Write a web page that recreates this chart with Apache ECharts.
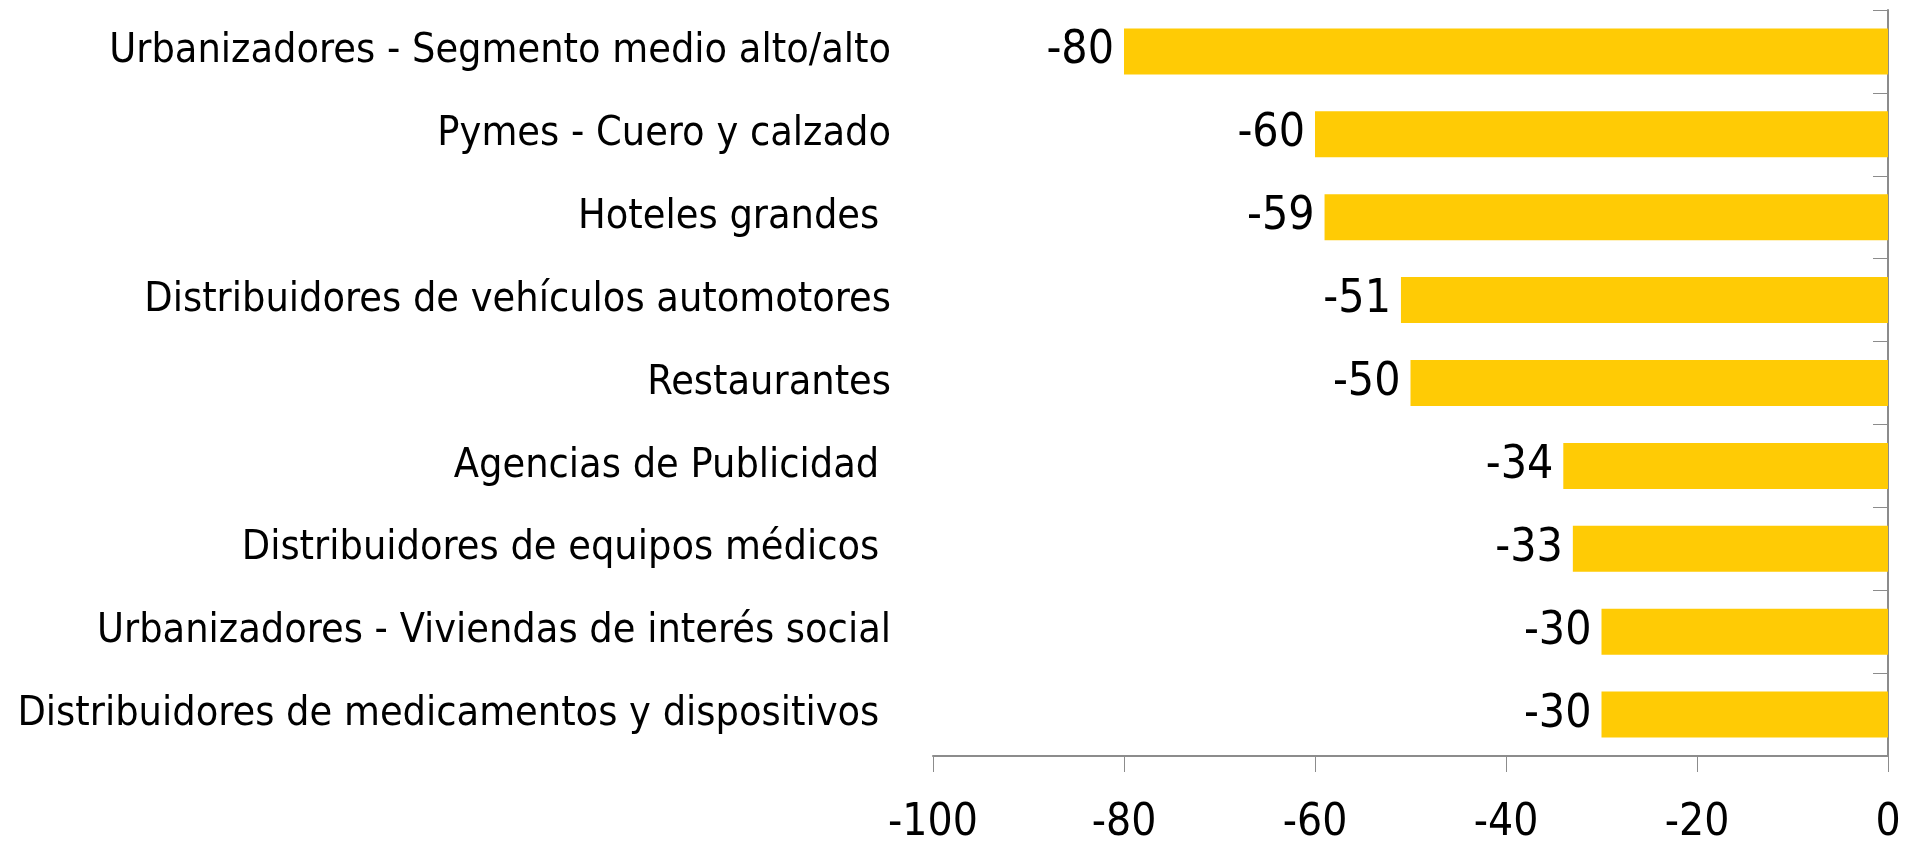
<!DOCTYPE html>
<html>
<head>
<meta charset="utf-8">
<script src="https://cdn.jsdelivr.net/npm/echarts@6/dist/echarts.min.js"></script>
<style>
  html, body { margin: 0; padding: 0; background: #fff; }
  #chart { width: 1911px; height: 846px; }
</style>
</head>
<body>
<div id="chart"></div>
<script>
// categories, top to bottom
var categories = [
  'Urbanizadores - Segmento medio alto/alto',
  'Pymes - Cuero y calzado',
  'Hoteles grandes ',
  'Distribuidores de vehículos automotores',
  'Restaurantes',
  'Agencias de Publicidad ',
  'Distribuidores de equipos médicos ',
  'Urbanizadores - Viviendas de interés social',
  'Distribuidores de medicamentos y dispositivos '
]
var values = [-80, -60, -59, -51, -50, -34, -33, -30, -30]
var xTicks = [-100, -80, -60, -40, -20, 0]

var narrow = '"Liberation Sans Narrow", "DejaVu Sans Condensed", "Roboto", sans-serif'
var axisGray = '#8c8c8c'

var chart = echarts.init(document.getElementById('chart'))
chart.setOption({
  animation: false,
  grid: {
    left: 933,
    right: 23,
    top: 10,
    bottom: 87
  },
  xAxis: {
    type: 'value',
    min: xTicks[0],
    max: xTicks[xTicks.length - 1],
    interval: 20,
    splitLine: { show: false },
    axisLine: { show: true, lineStyle: { color: axisGray, width: 2 } },
    axisTick: { show: true, length: 16, lineStyle: { color: axisGray, width: 1 } },
    axisLabel: {
      margin: 46,
      color: '#000',
      fontSize: 44,
      fontFamily: narrow
    }
  },
  yAxis: [{
    type: 'category',
    data: categories,
    inverse: true,
    position: 'left',
    axisLine: { show: false },
    axisTick: { show: false },
    axisLabel: {
      margin: 42,
      color: '#000',
      fontSize: 41,
      fontFamily: narrow
    }
  }, {
    type: 'category',
    data: categories,
    inverse: true,
    position: 'right',
    axisLine: { show: true, onZero: false, lineStyle: { color: axisGray, width: 2 } },
    axisTick: { show: true, inside: true, length: 15, lineStyle: { color: axisGray } },
    axisLabel: { show: false }
  }],
  series: [{
    type: 'bar',
    data: values,
    barWidth: 46,
    itemStyle: { color: '#FFCB05' },
    label: {
      show: true,
      position: 'left',
      distance: 10,
      color: '#000',
      fontSize: 46,
      fontFamily: narrow
    }
  }]
})
</script>
</body>
</html>
